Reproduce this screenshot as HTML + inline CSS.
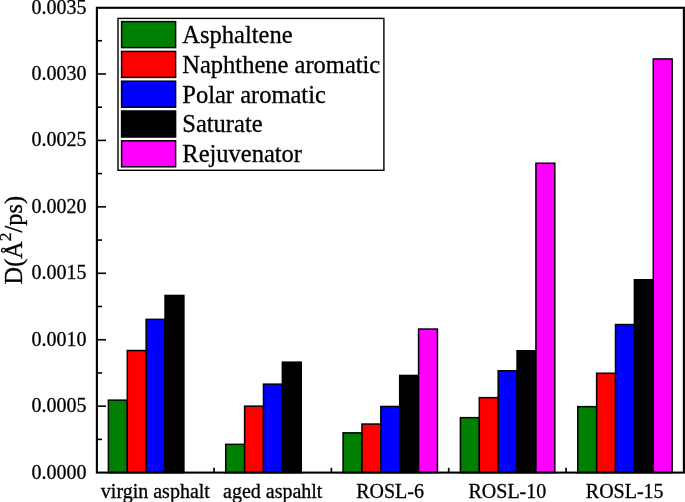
<!DOCTYPE html>
<html><head><meta charset="utf-8"><style>
html,body{margin:0;padding:0;background:#fff;}
svg{display:block;will-change:transform;}
.t{font-family:"Liberation Serif",serif;font-size:20px;fill:#000;stroke:#000;stroke-width:0.3px;}
</style></head><body>
<svg width="685" height="502" viewBox="0 0 685 502">
<rect x="108.39" y="400.15" width="18.88" height="72.45" fill="#008000" stroke="#000" stroke-width="1.5"/>
<rect x="127.27" y="350.55" width="18.88" height="122.05" fill="#ff0000" stroke="#000" stroke-width="1.5"/>
<rect x="146.15" y="319.35" width="18.88" height="153.25" fill="#0000ff" stroke="#000" stroke-width="1.5"/>
<rect x="165.03" y="295.45" width="18.88" height="177.15" fill="#000000" stroke="#000" stroke-width="1.5"/>
<rect x="225.73" y="444.35" width="18.88" height="28.25" fill="#008000" stroke="#000" stroke-width="1.5"/>
<rect x="244.61" y="406.15" width="18.88" height="66.45" fill="#ff0000" stroke="#000" stroke-width="1.5"/>
<rect x="263.49" y="384.15" width="18.88" height="88.45" fill="#0000ff" stroke="#000" stroke-width="1.5"/>
<rect x="282.37" y="362.15" width="18.88" height="110.45" fill="#000000" stroke="#000" stroke-width="1.5"/>
<rect x="343.07" y="432.85" width="18.88" height="39.75" fill="#008000" stroke="#000" stroke-width="1.5"/>
<rect x="361.95" y="424.05" width="18.88" height="48.55" fill="#ff0000" stroke="#000" stroke-width="1.5"/>
<rect x="380.83" y="406.45" width="18.88" height="66.15" fill="#0000ff" stroke="#000" stroke-width="1.5"/>
<rect x="399.71" y="375.45" width="18.88" height="97.15" fill="#000000" stroke="#000" stroke-width="1.5"/>
<rect x="418.59" y="329.05" width="18.88" height="143.55" fill="#ff00ff" stroke="#000" stroke-width="1.5"/>
<rect x="460.41" y="417.65" width="18.88" height="54.95" fill="#008000" stroke="#000" stroke-width="1.5"/>
<rect x="479.29" y="397.65" width="18.88" height="74.95" fill="#ff0000" stroke="#000" stroke-width="1.5"/>
<rect x="498.17" y="370.75" width="18.88" height="101.85" fill="#0000ff" stroke="#000" stroke-width="1.5"/>
<rect x="517.05" y="350.75" width="18.88" height="121.85" fill="#000000" stroke="#000" stroke-width="1.5"/>
<rect x="535.93" y="163.25" width="18.88" height="309.35" fill="#ff00ff" stroke="#000" stroke-width="1.5"/>
<rect x="577.75" y="406.65" width="18.88" height="65.95" fill="#008000" stroke="#000" stroke-width="1.5"/>
<rect x="596.63" y="373.25" width="18.88" height="99.35" fill="#ff0000" stroke="#000" stroke-width="1.5"/>
<rect x="615.51" y="324.55" width="18.88" height="148.05" fill="#0000ff" stroke="#000" stroke-width="1.5"/>
<rect x="634.39" y="279.75" width="18.88" height="192.85" fill="#000000" stroke="#000" stroke-width="1.5"/>
<rect x="653.27" y="58.95" width="18.88" height="413.65" fill="#ff00ff" stroke="#000" stroke-width="1.5"/>
<rect x="96.9" y="7.8" width="587.0" height="464.8" fill="none" stroke="#000" stroke-width="2.1"/>
<line x1="96.9" y1="439.38" x2="102" y2="439.38" stroke="#000" stroke-width="1.6"/>
<line x1="96.9" y1="406.16" x2="106" y2="406.16" stroke="#000" stroke-width="1.6"/>
<line x1="96.9" y1="372.94" x2="102" y2="372.94" stroke="#000" stroke-width="1.6"/>
<line x1="96.9" y1="339.72" x2="106" y2="339.72" stroke="#000" stroke-width="1.6"/>
<line x1="96.9" y1="306.50" x2="102" y2="306.50" stroke="#000" stroke-width="1.6"/>
<line x1="96.9" y1="273.28" x2="106" y2="273.28" stroke="#000" stroke-width="1.6"/>
<line x1="96.9" y1="240.06" x2="102" y2="240.06" stroke="#000" stroke-width="1.6"/>
<line x1="96.9" y1="206.84" x2="106" y2="206.84" stroke="#000" stroke-width="1.6"/>
<line x1="96.9" y1="173.62" x2="102" y2="173.62" stroke="#000" stroke-width="1.6"/>
<line x1="96.9" y1="140.40" x2="106" y2="140.40" stroke="#000" stroke-width="1.6"/>
<line x1="96.9" y1="107.18" x2="102" y2="107.18" stroke="#000" stroke-width="1.6"/>
<line x1="96.9" y1="73.96" x2="106" y2="73.96" stroke="#000" stroke-width="1.6"/>
<line x1="96.9" y1="40.74" x2="102" y2="40.74" stroke="#000" stroke-width="1.6"/>
<line x1="214.04" y1="472.6" x2="214.04" y2="467.8" stroke="#000" stroke-width="1.7"/>
<line x1="331.38" y1="472.6" x2="331.38" y2="467.8" stroke="#000" stroke-width="1.7"/>
<line x1="448.72" y1="472.6" x2="448.72" y2="467.8" stroke="#000" stroke-width="1.7"/>
<line x1="566.06" y1="472.6" x2="566.06" y2="467.8" stroke="#000" stroke-width="1.7"/>
<text x="86.5" y="478.60" text-anchor="end" class="t">0.0000</text>
<text x="86.5" y="412.16" text-anchor="end" class="t">0.0005</text>
<text x="86.5" y="345.72" text-anchor="end" class="t">0.0010</text>
<text x="86.5" y="279.28" text-anchor="end" class="t">0.0015</text>
<text x="86.5" y="212.84" text-anchor="end" class="t">0.0020</text>
<text x="86.5" y="146.40" text-anchor="end" class="t">0.0025</text>
<text x="86.5" y="79.96" text-anchor="end" class="t">0.0030</text>
<text x="86.5" y="13.52" text-anchor="end" class="t">0.0035</text>
<text x="155.37" y="497.8" text-anchor="middle" class="t">virgin asphalt</text>
<text x="272.71" y="497.8" text-anchor="middle" class="t">aged aspahlt</text>
<text x="390.05" y="497.8" text-anchor="middle" class="t">ROSL-6</text>
<text x="507.39" y="497.8" text-anchor="middle" class="t">ROSL-10</text>
<text x="624.73" y="497.8" text-anchor="middle" class="t">ROSL-15</text>
<rect x="118" y="18.4" width="265.9" height="151.9" fill="#fff" stroke="#000" stroke-width="1.4"/>
<rect x="121.6" y="21.60" width="54.0" height="26.0" fill="#008000" stroke="#000" stroke-width="1.5"/>
<text x="182.3" y="42.90" class="t" style="font-size:24.5px">Asphaltene</text>
<rect x="121.6" y="51.40" width="54.0" height="26.0" fill="#ff0000" stroke="#000" stroke-width="1.5"/>
<text x="182.3" y="72.70" class="t" style="font-size:24.5px">Naphthene aromatic</text>
<rect x="121.6" y="81.20" width="54.0" height="26.0" fill="#0000ff" stroke="#000" stroke-width="1.5"/>
<text x="182.3" y="102.50" class="t" style="font-size:24.5px">Polar aromatic</text>
<rect x="121.6" y="111.00" width="54.0" height="26.0" fill="#000000" stroke="#000" stroke-width="1.5"/>
<text x="182.3" y="132.30" class="t" style="font-size:24.5px">Saturate</text>
<rect x="121.6" y="140.80" width="54.0" height="26.0" fill="#ff00ff" stroke="#000" stroke-width="1.5"/>
<text x="182.3" y="162.10" class="t" style="font-size:24.5px">Rejuvenator</text>
<text transform="translate(21.6,284.4) rotate(-90)" class="t" style="font-size:24.3px">D(Å<tspan dy="-10.2" style="font-size:17.5px">2</tspan><tspan dy="10.2">/ps)</tspan></text>
</svg>
</body></html>
